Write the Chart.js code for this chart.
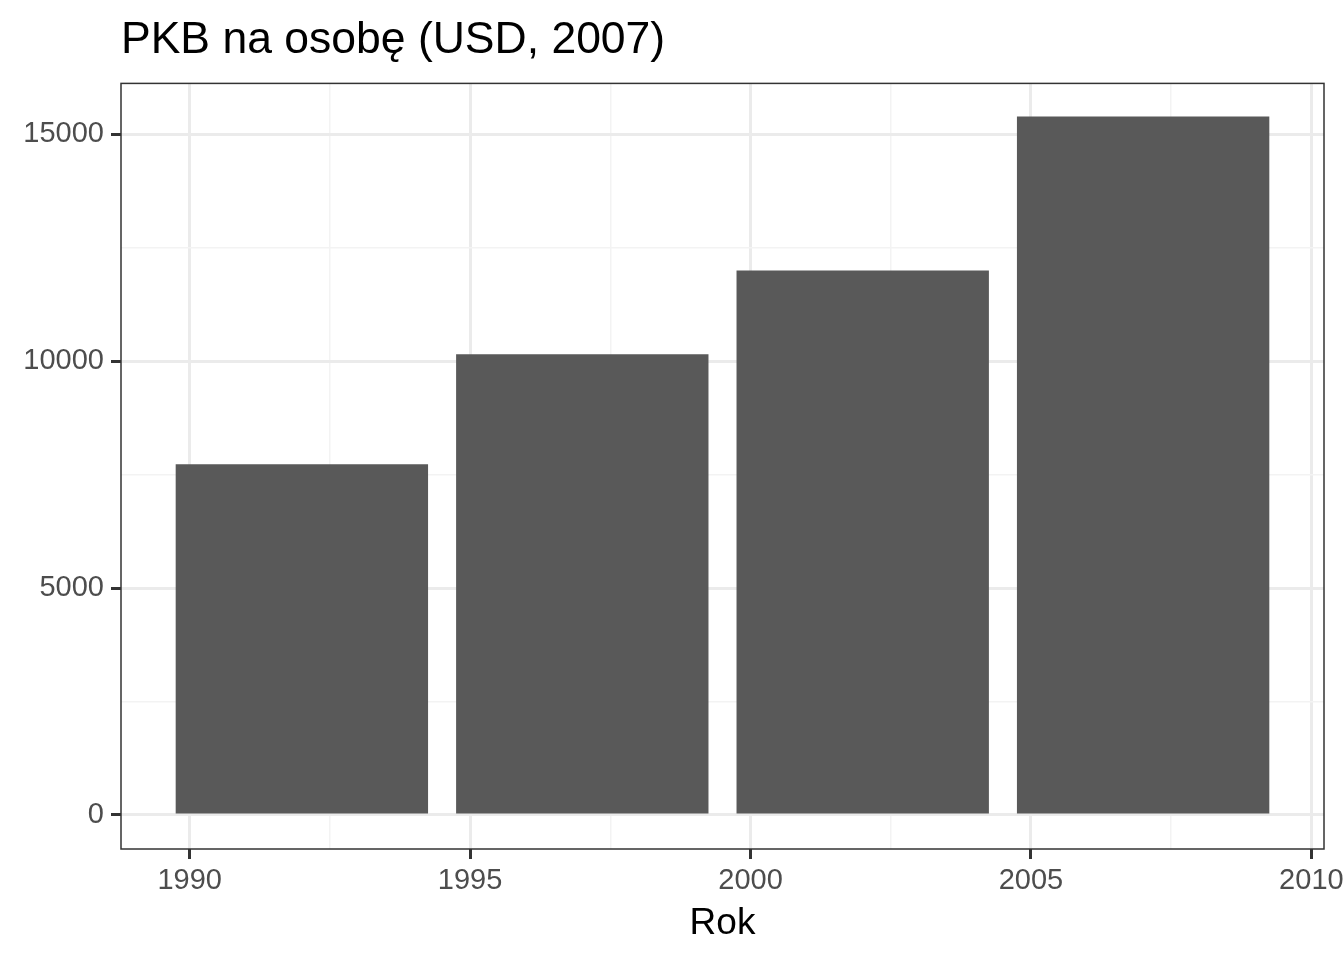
<!DOCTYPE html>
<html>
<head>
<meta charset="utf-8">
<script src="https://cdn.jsdelivr.net/npm/chart.js@4"></script>
<style>
  html, body { margin: 0; padding: 0; background: #ffffff; overflow: hidden; }
  #wrap { width: 1344px; height: 960px; }
</style>
</head>
<body>
<div id="wrap"><canvas id="chart"></canvas></div>
<script>
// Data
const years = [1992, 1997, 2002, 2007];
const gdpPerCapita = [7730, 10150, 12000, 15390];

// Axis ticks (majors get labels, minors only a light grid line)
const xMajorTicks = [1990, 1995, 2000, 2005, 2010];
const xMinorTicks = [1992.5, 1997.5, 2002.5, 2007.5];
const yMajorTicks = [0, 5000, 10000, 15000];
const yMinorTicks = [2500, 7500, 12500];

const FONT = "'Liberation Sans', Arial, Helvetica, sans-serif";

const isMajor = (list, v) => list.includes(v);
const tickIsMajor = (list, ctx) => ctx.tick ? isMajor(list, ctx.tick.value) : true;

const gridStyle = (majors) => ({
    offset: false,
    color: ctx => tickIsMajor(majors, ctx) ? '#EBEBEB' : '#F3F3F3',
    lineWidth: ctx => tickIsMajor(majors, ctx) ? 3 : 1.5,
    tickColor: ctx => tickIsMajor(majors, ctx) ? '#333333' : 'rgba(0,0,0,0)',
    tickWidth: 3,
    tickLength: 10,
    drawTicks: true
});

// panel border like ggplot's theme_bw
const panelBorder = {
    id: 'panelBorder',
    afterDatasetsDraw(chart) {
        const { ctx, chartArea: a } = chart;
        ctx.save();
        ctx.strokeStyle = '#333333';
        ctx.lineWidth = 1.5;
        ctx.strokeRect(a.left, a.top, a.right - a.left, a.bottom - a.top);
        ctx.restore();
    }
};

new Chart(document.getElementById('chart').getContext('2d'), {
    type: 'bar',
    data: {
        datasets: [{
            data: years.map((y, i) => ({ x: y, y: gdpPerCapita[i] })),
            backgroundColor: '#595959',
            borderWidth: 0,
            // ticks every 2.5 years -> 1.8 of that spacing = 4.5 year wide bars
            categoryPercentage: 1,
            barPercentage: 1.8
        }]
    },
    plugins: [panelBorder],
    options: {
        responsive: true,
        maintainAspectRatio: false,
        animation: false,
        devicePixelRatio: 1,
        layout: { padding: { left: 0, right: 20, top: 0, bottom: 0 } },
        plugins: {
            legend: { display: false },
            tooltip: { enabled: false },
            title: {
                display: true,
                text: 'PKB na osobę (USD, 2007)',
                align: 'start',
                fullSize: false,
                color: '#000000',
                font: { family: FONT, size: 44.5, weight: 'normal', lineHeight: 1.2 },
                padding: { top: 14, bottom: 16 }
            }
        },
        scales: {
            x: {
                type: 'linear',
                offset: false,
                min: 1988.775,
                max: 2010.225,
                afterBuildTicks: scale => {
                    scale.ticks = xMajorTicks.concat(xMinorTicks).sort((a, b) => a - b).map(v => ({ value: v }));
                },
                afterFit: scale => {
                    scale.height = 111;
                    scale.paddingLeft = 0;
                    scale.paddingRight = 0;
                },
                grid: gridStyle(xMajorTicks),
                border: { display: false },
                ticks: {
                    autoSkip: false,
                    maxRotation: 0,
                    padding: 5,
                    color: '#4D4D4D',
                    font: { family: FONT, size: 29 },
                    callback: v => isMajor(xMajorTicks, v) ? String(v) : ''
                },
                title: {
                    display: true,
                    text: 'Rok',
                    color: '#000000',
                    font: { family: FONT, size: 37 },
                    padding: { top: 0, bottom: 14 }
                }
            },
            y: {
                type: 'linear',
                min: -750,
                max: 16120,
                afterBuildTicks: scale => {
                    scale.ticks = yMajorTicks.concat(yMinorTicks).sort((a, b) => a - b).map(v => ({ value: v }));
                },
                afterFit: scale => {
                    scale.width = 121;
                },
                grid: gridStyle(yMajorTicks),
                border: { display: false },
                ticks: {
                    autoSkip: false,
                    padding: 7,
                    color: '#4D4D4D',
                    font: { family: FONT, size: 29 },
                    callback: v => isMajor(yMajorTicks, v) ? String(v) : ''
                }
            }
        }
    }
});
</script>
</body>
</html>
